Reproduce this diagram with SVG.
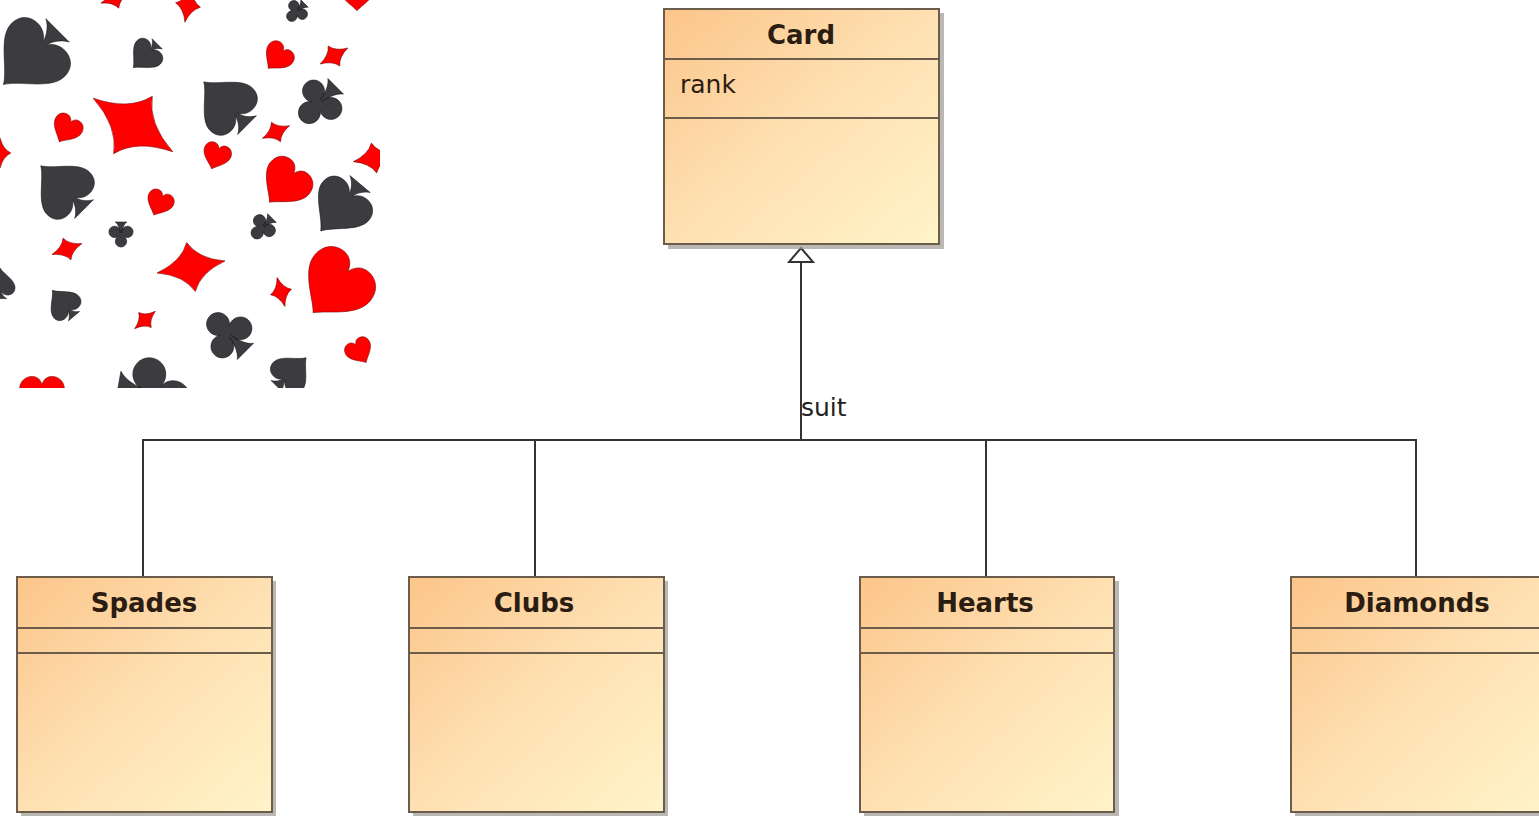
<svg xmlns="http://www.w3.org/2000/svg" xmlns:xlink="http://www.w3.org/1999/xlink" width="1539" height="816" viewBox="0 0 1539 816">
<style>
.box{fill:url(#fillGrad);stroke:#6b5c4c;stroke-width:2}
.shadow{fill:#9e9a94;opacity:0.7}
.sep{stroke:#6b5c4c;stroke-width:2}
.title{font-family:"DejaVu Sans",Verdana,sans-serif;font-weight:bold;font-size:26px;fill:#2b1d12;text-anchor:middle}
.attr{font-family:"DejaVu Sans",Verdana,sans-serif;font-size:25px;fill:#2b1d12}
.conn{fill:none;stroke:#333;stroke-width:2}
.label{font-family:"DejaVu Sans",Verdana,sans-serif;font-size:25px;fill:#222}
.red{fill:#ff0000;stroke:#7a0000;stroke-width:0.6}
.dark{fill:#3c3c40;stroke:#1a1a1a;stroke-width:0.6}
</style>
<defs>
<linearGradient id="fillGrad" x1="0" y1="0" x2="1" y2="1">
<stop offset="0" stop-color="#fcc58a"/>
<stop offset="0.5" stop-color="#fee0b2"/>
<stop offset="1" stop-color="#fff4c8"/>
</linearGradient>
<marker id="gen" viewBox="0 0 30 30" refX="15" refY="1" markerWidth="30" markerHeight="30" markerUnits="userSpaceOnUse" orient="auto-start-reverse">
</marker>
<path id="heart" vector-effect="non-scaling-stroke" d="M0,45 C-12,30 -50,10 -50,-18 C-50,-38 -36,-48 -22,-48 C-10,-48 -3,-40 0,-30 C3,-40 10,-48 22,-48 C36,-48 50,-38 50,-18 C50,10 12,30 0,45Z"/>
<path id="spade" vector-effect="non-scaling-stroke" d="M0,-50 C-12,-30 -50,-10 -50,15 C-50,32 -38,40 -25,40 C-14,40 -6,33 -3,27 C-5,38 -14,48 -22,52 L22,52 C14,48 5,38 3,27 C6,33 14,40 25,40 C38,40 50,32 50,15 C50,-10 12,-30 0,-50Z"/>
<path id="club" vector-effect="non-scaling-stroke" d="M-3,8 A22,22 0 1 1 -12,-6 A22,22 0 1 1 12,-6 A22,22 0 1 1 3,8 C5,30 14,44 22,50 L-22,50 C-14,44 -5,30 -3,8Z"/>
<path id="diamond" vector-effect="non-scaling-stroke" d="M0,-50 Q10,-12 36,0 Q10,12 0,50 Q-10,12 -36,0 Q-10,-12 0,-50Z"/>
<clipPath id="patClip"><rect x="0" y="0" width="380" height="388"/></clipPath>
</defs>
<rect width="1539" height="816" fill="#ffffff"/>

<g id="suit-pattern" clip-path="url(#patClip)">
<use href="#diamond" class="red" transform="translate(115,-2) rotate(70) scale(0.3)"/>
<use href="#diamond" class="red" transform="translate(188,5) rotate(10) scale(0.35)"/>
<use href="#club" class="dark" transform="translate(296,12) rotate(-135) scale(0.24)"/>
<use href="#heart" class="red" transform="translate(357,-5) scale(0.35)"/>
<use href="#spade" class="dark" transform="translate(30,58) rotate(-135) scale(0.75)"/>
<use href="#spade" class="dark" transform="translate(145,56) rotate(-135) scale(0.33)"/>
<use href="#heart" class="red" transform="translate(277,58) rotate(40) scale(0.3)"/>
<use href="#diamond" class="red" transform="translate(334,56) rotate(60) scale(0.32)"/>
<use href="#diamond" class="red" transform="translate(133,125) rotate(-56) scale(0.96)"/>
<use href="#spade" class="dark" transform="translate(225,103) rotate(-45) scale(0.6)"/>
<use href="#club" class="dark" transform="translate(318,104) rotate(-135) scale(0.5)"/>
<use href="#heart" class="red" transform="translate(66,130) rotate(30) scale(0.3)"/>
<use href="#diamond" class="red" transform="translate(276,132) rotate(65) scale(0.3)"/>
<use href="#heart" class="red" transform="translate(216,157) rotate(20) scale(0.28)"/>
<use href="#diamond" class="red" transform="translate(0,153) scale(0.3)"/>
<use href="#diamond" class="red" transform="translate(374,158) rotate(80) scale(0.42)"/>
<use href="#spade" class="dark" transform="translate(62,187) rotate(-45) scale(0.6)"/>
<use href="#heart" class="red" transform="translate(159,204) rotate(25) scale(0.27)"/>
<use href="#heart" class="red" transform="translate(284,185) rotate(40) scale(0.5)"/>
<use href="#spade" class="dark" transform="translate(340,208) rotate(-140) scale(0.6)"/>
<use href="#club" class="dark" transform="translate(121,235) rotate(180) scale(0.26)"/>
<use href="#club" class="dark" transform="translate(262,228) rotate(-135) scale(0.28)"/>
<use href="#diamond" class="red" transform="translate(67,249) rotate(70) scale(0.32)"/>
<use href="#diamond" class="red" transform="translate(191,267) rotate(-100) scale(0.69)"/>
<use href="#heart" class="red" transform="translate(334,288) rotate(40) scale(0.72)"/>
<use href="#diamond" class="red" transform="translate(281,292) rotate(-15) scale(0.3)"/>
<use href="#spade" class="dark" transform="translate(0,283) scale(0.3)"/>
<use href="#spade" class="dark" transform="translate(63,303) rotate(-40) scale(0.33)"/>
<use href="#diamond" class="red" transform="translate(145,320) rotate(50) scale(0.27)"/>
<use href="#club" class="dark" transform="translate(227,333) rotate(-45) scale(0.52)"/>
<use href="#heart" class="red" transform="translate(360,352) rotate(-30) scale(0.27)"/>
<use href="#heart" class="red" transform="translate(42,398) scale(0.45)"/>
<use href="#club" class="dark" transform="translate(155,394) rotate(100) scale(0.75)"/>
<use href="#spade" class="dark" transform="translate(292,372) rotate(45) scale(0.4)"/>
</g>

<g id="connectors">
<path class="conn" d="M801,262 V440"/>
<path class="conn" d="M143,577 V440 H1416 V577"/>
<path class="conn" d="M535,440 V577"/>
<path class="conn" d="M986,440 V577"/>
<path d="M801,248 L813,262 L789,262 Z" fill="#ffffff" stroke="#333" stroke-width="2"/>
<text class="label" x="801" y="416">suit</text>
</g>

<g id="node-card">
<rect class="shadow" x="668" y="13" width="276" height="236"/>
<rect class="box" x="664" y="9" width="275" height="235"/>
<line class="sep" x1="664" y1="59" x2="939" y2="59"/>
<line class="sep" x1="664" y1="118" x2="939" y2="118"/>
<text class="title" x="801" y="44">Card</text>
<text class="attr" x="680" y="93">rank</text>
</g>

<g id="node-spades">
<rect class="shadow" x="21" y="581" width="255" height="235"/>
<rect class="box" x="17" y="577" width="255" height="235"/>
<line class="sep" x1="17" y1="628" x2="272" y2="628"/>
<line class="sep" x1="17" y1="653" x2="272" y2="653"/>
<text class="title" x="144" y="612">Spades</text>
</g>

<g id="node-clubs">
<rect class="shadow" x="413" y="581" width="255" height="235"/>
<rect class="box" x="409" y="577" width="255" height="235"/>
<line class="sep" x1="409" y1="628" x2="664" y2="628"/>
<line class="sep" x1="409" y1="653" x2="664" y2="653"/>
<text class="title" x="534" y="612">Clubs</text>
</g>

<g id="node-hearts">
<rect class="shadow" x="864" y="581" width="255" height="235"/>
<rect class="box" x="860" y="577" width="254" height="235"/>
<line class="sep" x1="860" y1="628" x2="1114" y2="628"/>
<line class="sep" x1="860" y1="653" x2="1114" y2="653"/>
<text class="title" x="985" y="612">Hearts</text>
</g>

<g id="node-diamonds">
<rect class="shadow" x="1295" y="581" width="255" height="235"/>
<rect class="box" x="1291" y="577" width="255" height="235"/>
<line class="sep" x1="1291" y1="628" x2="1546" y2="628"/>
<line class="sep" x1="1291" y1="653" x2="1546" y2="653"/>
<text class="title" x="1417" y="612">Diamonds</text>
</g>
</svg>
